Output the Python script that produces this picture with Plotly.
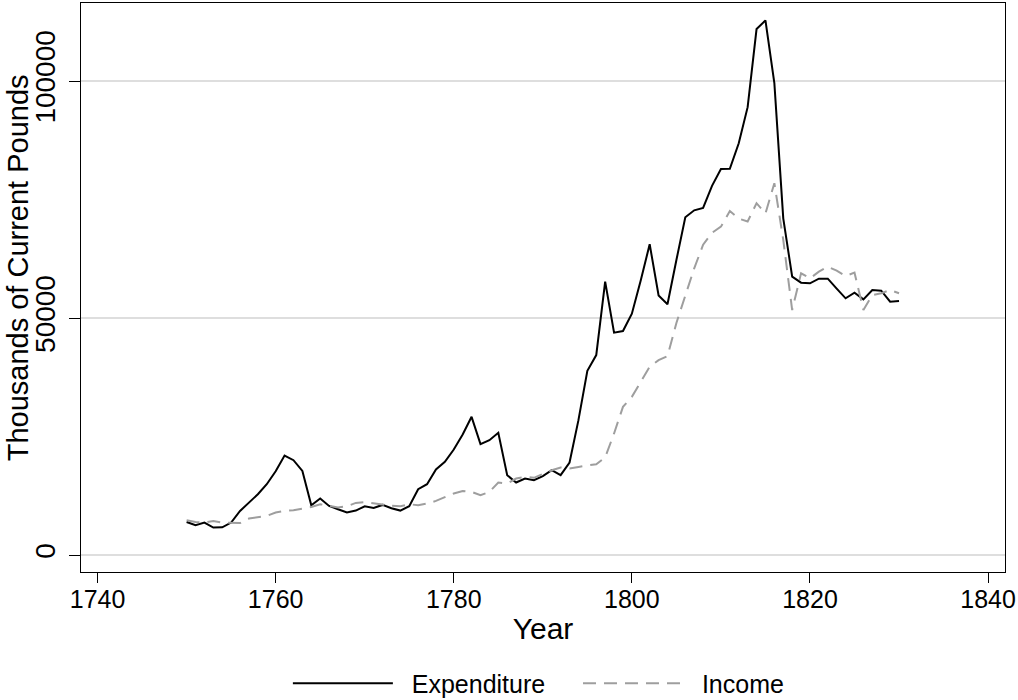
import plotly.graph_objects as go

years = list(range(1750, 1831))

expenditure = [
    7030, 6330, 6900, 5840, 5910, 6900, 9350, 11040, 12870, 14990,
    17730, 21040, 20050, 17800, 10560, 11960, 10410, 9710, 9010, 9430,
    10340, 9990, 10620, 9920, 9430, 10340, 13930, 15000, 18100, 19700,
    22310, 25470, 29200, 23430, 24280, 25820, 16890, 15350, 16190, 15830,
    16680, 17940, 16890, 19570, 28500, 38900, 42220, 57700, 46950, 47300,
    50950, 58000, 65590, 54800, 52950, 62270, 71280, 72750, 73250, 77900,
    81450, 81490, 86900, 94500, 110970, 112800, 99570, 71070, 58750, 57490,
    57350, 58330, 58330, 56220, 54190, 55370, 53980, 55940, 55800, 53470,
    53620,
]

income = [
    7390, 7030, 6900, 7240, 6900, 6820, 6790, 7740, 8090, 8300,
    9010, 9350, 9500, 9780, 10200, 10770, 10340, 10060, 10340, 11040,
    11190, 10910, 10620, 10480, 10340, 10770, 10560, 10910, 11470, 12310,
    13030, 13570, 13360, 12670, 13360, 15350, 15130, 16190, 16540, 16330,
    17100, 17940, 18510, 18300, 18640, 18850, 19210, 20620, 25690, 31310,
    33420, 36590, 39750, 41160, 42010, 49000, 55000, 60500, 65500, 68000,
    69300, 72600, 71000, 70400, 74250, 72100, 78460, 66500, 51720, 59470,
    58410, 59810, 60870, 60020, 58900, 59600, 51720, 54890, 55250, 55940,
    55250,
]

x_ticks = [1740, 1760, 1780, 1800, 1820, 1840]
y_ticks = [0, 50000, 100000]

font = "Liberation Sans, Arial, sans-serif"
nb = "\u00a0"

fig = go.Figure()
fig.add_trace(go.Scatter(x=years, y=expenditure, name=nb * 2 + "Expenditure" + nb * 4,
                         mode="lines", line=dict(color="black", width=2)))
fig.add_trace(go.Scatter(x=years, y=income, name=nb * 2 + "Income", mode="lines",
                         line=dict(color="#9E9E9E", width=2, dash="13px,8px")))

fig.update_layout(
    width=1018, height=700,
    margin=dict(l=81, r=13, t=3, b=128, autoexpand=False),
    paper_bgcolor="white", plot_bgcolor="white",
    font=dict(family=font, size=25, color="black"),
    showlegend=True,
    legend=dict(orientation="h", x=0.495, xanchor="center", y=-0.196, yanchor="middle",
                itemwidth=100, font=dict(size=25), traceorder="normal"),
)
fig.update_xaxes(
    range=[1738.14, 1841.9], tickvals=x_ticks, ticks="outside", ticklen=10,
    tickwidth=1.3, tickcolor="black", showline=True, linecolor="black", linewidth=1.3,
    mirror=True, showgrid=False, zeroline=False, automargin=False,
    ticklabelstandoff=-5,
    title=dict(text="Year", standoff=5), tickfont=dict(size=25),
)
fig.update_yaxes(
    range=[-3525, 116470], tickvals=y_ticks, tickformat="d", tickangle=-90,
    ticks="outside", ticklen=11, tickwidth=1.3, tickcolor="black", ticklabelstandoff=3,
    showline=True, linecolor="black", linewidth=1.3, mirror=True,
    showgrid=True, gridcolor="#DEDEDE", gridwidth=2, zeroline=False, automargin=False,
    tickfont=dict(size=28),
)

# y-axis title, placed like the original (slightly above the plot's centre)
fig.add_annotation(
    text="Thousands of Current Pounds", textangle=-90, showarrow=False,
    xref="paper", yref="paper", x=-0.068, y=0.534, xanchor="center", yanchor="middle",
    font=dict(size=29),
)

fig.write_html(
    "out.html",
    config={"displayModeBar": False},
    post_script="document.body.style.margin='0';document.body.style.overflow='hidden';",
)
